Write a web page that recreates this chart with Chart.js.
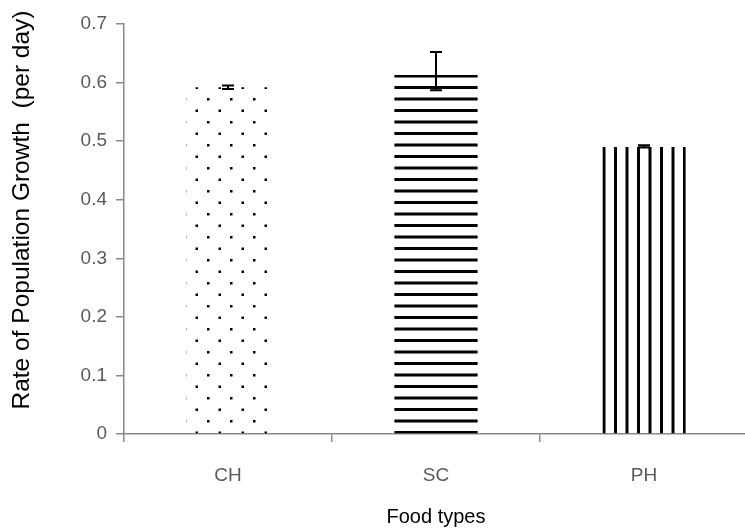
<!DOCTYPE html>
<html>
<head>
<meta charset="utf-8">
<script src="https://cdn.jsdelivr.net/npm/chart.js@4/dist/chart.umd.min.js"></script>
<style>
  html, body { margin: 0; padding: 0; background: #fff; overflow: hidden; }
  #wrap { width: 748px; height: 529px; }
</style>
</head>
<body>
<div id="wrap"><canvas id="growth"></canvas></div>
<script>
const foodTypes = ['CH', 'SC', 'PH'];
const growthRate = [0.592, 0.613, 0.49];
const errLow = [0.589, 0.587, 0.489];
const errHigh = [0.595, 0.652, 0.493];
const yTicks = [0, 0.1, 0.2, 0.3, 0.4, 0.5, 0.6, 0.7];
const yTitle = 'Rate of Population Growth  (per day)';

function tile(draw) {
    const c = document.createElement('canvas');
    c.width = 23;
    c.height = 23;
    const ctx = c.getContext('2d');
    ctx.fillStyle = '#000';
    draw(ctx);
    return document.getElementById('growth').getContext('2d').createPattern(c, 'repeat');
}

const dots = tile((ctx) => {
    ctx.fillRect(11.5, 17.5, 2.5, 2.5);
    ctx.fillRect(0, 6, 2.5, 2.5);
});
const hLines = tile((ctx) => {
    ctx.fillRect(0, 5.5, 23, 3);
    ctx.fillRect(0, 17, 23, 3);
});
const vLines = tile((ctx) => {
    ctx.fillRect(4.5, 0, 3, 23);
    ctx.fillRect(16, 0, 3, 23);
});

const errorBars = {
    id: 'errorBars',
    afterDatasetsDraw(chart) {
        const meta = chart.getDatasetMeta(0);
        const y = chart.scales.y;
        const ctx = chart.ctx;
        ctx.save();
        ctx.strokeStyle = '#000';
        ctx.lineWidth = 2;
        meta.data.forEach((bar, i) => {
            const x = bar.x;
            const top = y.getPixelForValue(errHigh[i]);
            const bottom = y.getPixelForValue(errLow[i]);
            ctx.beginPath();
            ctx.moveTo(x, top);
            ctx.lineTo(x, bottom);
            ctx.moveTo(x - 6, top);
            ctx.lineTo(x + 6, top);
            ctx.moveTo(x - 6, bottom);
            ctx.lineTo(x + 6, bottom);
            ctx.stroke();
        });
        ctx.restore();
    },
};

// y title sits a bit above the plot centre in the original
const sideTitle = {
    id: 'sideTitle',
    afterDraw(chart) {
        const ctx = chart.ctx;
        ctx.save();
        ctx.translate(22, 210);
        ctx.rotate(-Math.PI / 2);
        ctx.font = '24.5px "Liberation Sans"';
        ctx.fillStyle = '#000';
        ctx.textAlign = 'center';
        ctx.textBaseline = 'middle';
        ctx.fillText(yTitle, 0, 0);
        ctx.restore();
    },
};

new Chart(document.getElementById('growth'), {
    type: 'bar',
    data: {
        labels: foodTypes,
        datasets: [
            {
                data: growthRate,
                backgroundColor: [dots, hLines, vLines],
                borderWidth: 0,
                categoryPercentage: 1,
                barPercentage: 0.4,
            },
        ],
    },
    options: {
        responsive: true,
        maintainAspectRatio: false,
        animation: false,
        layout: { padding: { top: 24, right: 0, left: 0, bottom: 0 } },
        plugins: {
            legend: { display: false },
            tooltip: { enabled: false },
        },
        scales: {
            x: {
                offset: true,
                afterFit: (scale) => { scale.height = 95; },
                border: { color: '#888', width: 1.5 },
                grid: { offset: true, drawOnChartArea: false, tickLength: 8, color: '#888', lineWidth: 1.5 },
                ticks: { color: '#595959', font: { family: 'Liberation Sans', size: 19 }, padding: 22 },
                title: {
                    display: true,
                    text: 'Food types',
                    color: '#000',
                    font: { family: 'Liberation Sans', size: 20 },
                    padding: { top: 4, bottom: 0 },
                },
            },
            y: {
                min: 0,
                max: 0.7,
                afterFit: (scale) => { scale.width = 124; },
                afterBuildTicks: (scale) => {
                    scale.ticks = yTicks.map((value) => ({ value }));
                },
                border: { color: '#888', width: 1.5 },
                grid: { drawOnChartArea: false, tickLength: 8, color: '#888', lineWidth: 1.5 },
                ticks: {
                    color: '#595959',
                    font: { family: 'Liberation Sans', size: 19 },
                    padding: 9,
                    callback: (value) => String(Math.round(value * 10) / 10),
                },
            },
        },
    },
    plugins: [errorBars, sideTitle],
});
</script>
</body>
</html>
